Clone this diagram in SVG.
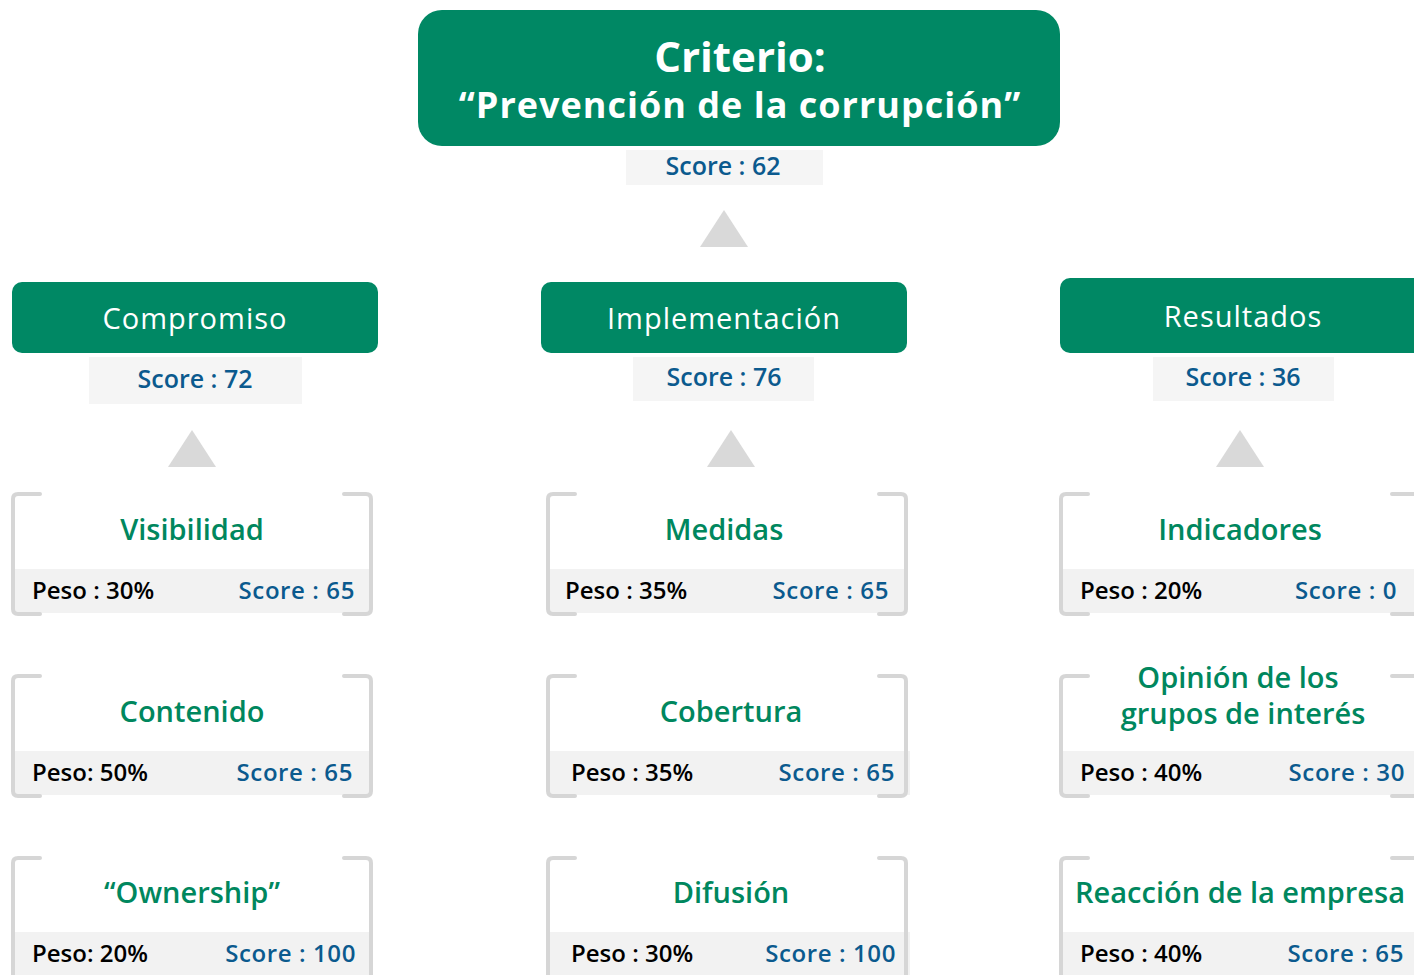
<svg xmlns="http://www.w3.org/2000/svg" width="1414" height="975" viewBox="0 0 1414 975">
<style>
text{font-family:"Open Sans","Noto Sans","DejaVu Sans",sans-serif}
.hd{fill:#008864}
.sb{fill:#f5f5f5}
.sc{fill:#0b5a8e;font-size:25px;font-weight:600;text-anchor:middle}
.wt{fill:#fff;font-size:29px;text-anchor:middle;letter-spacing:1px}
.tri{fill:#d9d9d9}
.br{fill:none;stroke:#d6d6d6;stroke-width:4;stroke-linejoin:round;stroke-linecap:round}
.band{fill:#f2f2f2}
.tt{fill:#00875e;font-size:29px;font-weight:600;text-anchor:middle}
.pe{fill:#000;font-size:24px;font-weight:600}
.ls{fill:#0b5a8e;font-size:24px;font-weight:600;text-anchor:end;letter-spacing:0.6px}
</style>
<rect width="1414" height="975" fill="#fff"/>

<g id="criterio">
<rect class="hd" x="418" y="10" width="642" height="136" rx="24"/>
<text x="740" y="72" fill="#fff" font-size="42" font-weight="700" text-anchor="middle">Criterio:</text>
<text x="740" y="118" fill="#fff" font-size="36" font-weight="700" text-anchor="middle" letter-spacing="1">“Prevención de la corrupción”</text>
<rect class="sb" x="626" y="150" width="197" height="35"/>
<text class="sc" x="723" y="175">Score : 62</text>
</g>

<g id="connectors">
<polygon class="tri" points="724,210 748,247 700,247"/>
<polygon class="tri" points="192,430 216,467 168,467"/>
<polygon class="tri" points="731,430 755,467 707,467"/>
<polygon class="tri" points="1240,430 1264,467 1216,467"/>
</g>

<g id="compromiso">
<rect class="hd" x="12" y="282" width="366" height="71" rx="10"/>
<text class="wt" x="195" y="329">Compromiso</text>
<rect class="sb" x="89" y="357" width="213" height="47"/>
<text class="sc" x="195" y="388">Score : 72</text>
</g>
<g id="implementacion">
<rect class="hd" x="541" y="282" width="366" height="71" rx="10"/>
<text class="wt" x="724" y="329">Implementación</text>
<rect class="sb" x="633" y="357" width="181" height="44"/>
<text class="sc" x="724" y="386">Score : 76</text>
</g>
<g id="resultados">
<rect class="hd" x="1060" y="278" width="370" height="75" rx="10"/>
<text class="wt" x="1243" y="327">Resultados</text>
<rect class="sb" x="1153" y="357" width="181" height="44"/>
<text class="sc" x="1243" y="386">Score : 36</text>
</g>

<!-- column 1 -->
<g id="visibilidad">
<rect class="band" x="13" y="569" width="358" height="44"/>
<path class="br" d="M40,494 H18 Q13,494 13,499 V609 Q13,614 18,614 H40 M344,494 H366 Q371,494 371,499 V609 Q371,614 366,614 H344"/>
<text class="tt" x="192" y="540">Visibilidad</text>
<text class="pe" x="32" y="599">Peso : 30%</text>
<text class="ls" x="355" y="599">Score : 65</text>
</g>
<g id="contenido">
<rect class="band" x="13" y="751" width="358" height="44"/>
<path class="br" d="M40,676 H18 Q13,676 13,681 V791 Q13,796 18,796 H40 M344,676 H366 Q371,676 371,681 V791 Q371,796 366,796 H344"/>
<text class="tt" x="192" y="722">Contenido</text>
<text class="pe" x="32" y="781">Peso: 50%</text>
<text class="ls" x="353" y="781">Score : 65</text>
</g>
<g id="ownership">
<rect class="band" x="13" y="932" width="358" height="45"/>
<path class="br" d="M40,858 H18 Q13,858 13,863 V978 M344,858 H366 Q371,858 371,863 V978"/>
<text class="tt" x="192" y="903">“Ownership”</text>
<text class="pe" x="32" y="962">Peso: 20%</text>
<text class="ls" x="356" y="962">Score : 100</text>
</g>

<!-- column 2 -->
<g id="medidas">
<rect class="band" x="548" y="569" width="358" height="44"/>
<path class="br" d="M575,494 H553 Q548,494 548,499 V609 Q548,614 553,614 H575 M879,494 H901 Q906,494 906,499 V609 Q906,614 901,614 H879"/>
<text class="tt" x="724" y="540">Medidas</text>
<text class="pe" x="565" y="599">Peso : 35%</text>
<text class="ls" x="889" y="599">Score : 65</text>
</g>
<g id="cobertura">
<rect class="band" x="550" y="751" width="360" height="44"/>
<path class="br" d="M575,676 H553 Q548,676 548,681 V791 Q548,796 553,796 H575 M879,676 H901 Q906,676 906,681 V791 Q906,796 901,796 H879"/>
<text class="tt" x="731" y="722">Cobertura</text>
<text class="pe" x="571" y="781">Peso : 35%</text>
<text class="ls" x="895" y="781">Score : 65</text>
</g>
<g id="difusion">
<rect class="band" x="550" y="932" width="360" height="45"/>
<path class="br" d="M575,858 H553 Q548,858 548,863 V978 M879,858 H901 Q906,858 906,863 V978"/>
<text class="tt" x="731" y="903">Difusión</text>
<text class="pe" x="571" y="962">Peso : 30%</text>
<text class="ls" x="896" y="962">Score : 100</text>
</g>

<!-- column 3 -->
<g id="indicadores">
<rect class="band" x="1061" y="569" width="360" height="44"/>
<path class="br" d="M1088,494 H1066 Q1061,494 1061,499 V609 Q1061,614 1066,614 H1088 M1392,494 H1414 Q1419,494 1419,499 V609 Q1419,614 1414,614 H1392"/>
<text class="tt" x="1240" y="540">Indicadores</text>
<text class="pe" x="1080" y="599">Peso : 20%</text>
<text class="ls" x="1397" y="599">Score : 0</text>
</g>
<g id="opinion">
<rect class="band" x="1061" y="751" width="360" height="44"/>
<path class="br" d="M1088,676 H1066 Q1061,676 1061,681 V791 Q1061,796 1066,796 H1088 M1392,676 H1414 Q1419,676 1419,681 V791 Q1419,796 1414,796 H1392"/>
<text class="tt" x="1238" y="688">Opinión de los</text>
<text class="tt" x="1243" y="724">grupos de interés</text>
<text class="pe" x="1080" y="781">Peso : 40%</text>
<text class="ls" x="1405" y="781">Score : 30</text>
</g>
<g id="reaccion">
<rect class="band" x="1061" y="932" width="360" height="45"/>
<path class="br" d="M1088,858 H1066 Q1061,858 1061,863 V978 M1392,858 H1414 Q1419,858 1419,863 V978"/>
<text class="tt" x="1240" y="903">Reacción de la empresa</text>
<text class="pe" x="1080" y="962">Peso : 40%</text>
<text class="ls" x="1404" y="962">Score : 65</text>
</g>
</svg>
